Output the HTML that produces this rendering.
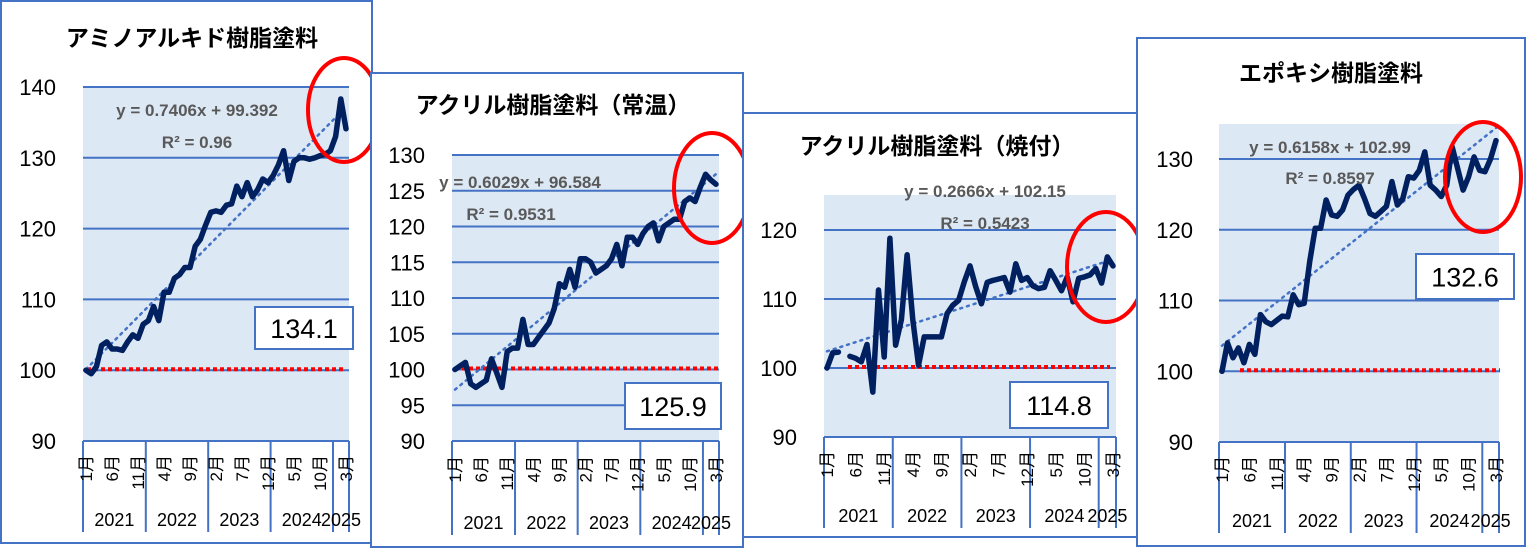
<!DOCTYPE html>
<html><head><meta charset="utf-8">
<style>
html,body{margin:0;padding:0;background:#fff;}
svg{display:block;font-family:"Liberation Sans","Noto Sans CJK JP",sans-serif;}
</style></head>
<body>
<svg id="c" width="1526" height="548" viewBox="0 0 1526 548"></svg>
<script>
const months = ["1月","6月","11月","4月","9月","2月","7月","12月","5月","10月","3月"];
const years = ["2021","2022","2023","2024","2025"];
const titles = ["アミノアルキド樹脂塗料","アクリル樹脂塗料（常温）","アクリル樹脂塗料（焼付）","エポキシ樹脂塗料"];
const series1 = [100,99.5,100.5,103.5,104,103,103,102.8,104,105,104.5,106.5,
 107,109,107,111,111,113,113.5,114.5,114.5,117.5,118.5,120.5,
 122.3,122.5,122.3,123.3,123.5,126,124.5,126.5,124.5,125.5,127,126.5,
 127.5,129,131,126.8,129.5,130,130,129.8,130,130.3,130.5,131,
 133,138.3,134.1];
const series2 = [100,100.5,101,98,97.5,98,98.5,101.5,99.5,97.5,102.5,103,
 103,107,103.5,103.5,104.5,105.5,106.5,108.5,112,111.5,114,111.5,
 115.5,115.5,115,113.5,114,114.5,115.5,117.5,114.5,118.5,118.5,117.5,
 119,120,120.5,118,120,120.5,121,121,123.5,124,123.5,125.5,
 127.3,126.5,125.9];
const series3 = [100,102.2,102.3,null,101.7,101.4,100.9,103.4,96.5,111.3,101.6,118.8,
 103.3,107,116.4,107,100.4,104.5,104.5,104.5,104.5,107.9,109.1,109.8,
 112.5,114.8,111.8,109.3,112.4,112.7,112.9,113.1,111,115.1,112.7,113.1,
 111.9,111.5,111.7,114.1,112.7,111.2,113.2,109.6,113,113.2,113.5,114.4,
 112.3,116.1,114.8];
const series4 = [100,104,101.9,103.3,101.2,103.8,102.4,108,107,106.6,107.2,107.8,
 107.7,110.8,109.4,109.6,115.5,120.2,120.2,124.2,122.1,121.9,122.8,124.9,
 125.7,126.3,124.4,122.3,121.9,122.6,123.3,126.8,123.5,124.4,127.5,127.3,
 128.4,131,126.3,125.6,124.7,126.3,131.7,128.7,125.6,127.5,130.3,128.4,
 128.2,130,132.6];
const slopes = [0.7406,0.6029,0.2666,0.6158];
const intercepts = [99.392,96.584,102.15,102.99];
const eqLabels = ["y = 0.7406x + 99.392","y = 0.6029x + 96.584","y = 0.2666x + 102.15","y = 0.6158x + 102.99"];
const r2Labels = ["R² = 0.96","R² = 0.9531","R² = 0.5423","R² = 0.8597"];
const latestLabels = ["134.1","125.9","114.8","132.6"];
const yTicks1 = [90,100,110,120,130,140];
const yTicks2 = [90,95,100,105,110,115,120,125,130];
const yTicks3 = [90,100,110,120];
const yTicks4 = [90,100,110,120,130];

const NS="http://www.w3.org/2000/svg";
const svg=document.getElementById('c');
function mk(tag,attrs,parent,text){const e=document.createElementNS(NS,tag);for(const k in attrs)e.setAttribute(k,attrs[k]);if(text!==undefined)e.textContent=text;(parent||svg).appendChild(e);return e;}

const layouts=[
 {panel:[1,1,371,542],title:[192,46],px0:83,px1:349,bgTop:87,vMin:90,vMax:140,yBottom:441,axisBottom:532,yLabX:56,eq:[197,116],r2:[197,148],box:[255,307,98,42],ell:[344,110,36,52],redX:[87,346],ticks:yTicks1,data:series1,yearY:526,monthTop:455},
 {panel:[371,73,372,474],title:[553,113],px0:452,px1:719,bgTop:155,vMin:90,vMax:130,yBottom:441,axisBottom:535,yLabX:425,eq:[520,188],r2:[511,220],box:[625,383,96,46],ell:[712,188,38,55],redX:[455,718],ticks:yTicks2,data:series2,yearY:529,monthTop:456},
 {panel:[743,113,395,424],title:[937,154],px0:824,px1:1116,bgTop:195,vMin:90,vMax:120,yBottom:437,axisBottom:528,yLabX:797,eq:[985,197],r2:[985,229],box:[1010,382,98,46],ell:[1106,267,39,55],redX:[848,1110],ticks:yTicks3,data:series3,yearY:522,monthTop:451},
 {panel:[1137,38,388,508],title:[1331,81],px0:1219,px1:1499,bgTop:124,vMin:90,vMax:130,yBottom:442,axisBottom:533,yLabX:1193,eq:[1330,153],r2:[1330,184],box:[1416,254,98,45],ell:[1483,177,38,55],redX:[1240,1500],ticks:yTicks4,data:series4,yearY:527,monthTop:456}
];

layouts.forEach((L,ci)=>{
 const g=mk('g',{});
 
 
 const [px,py,pw,ph]=L.panel;
 const pnl=mk('rect',{x:px,y:py,width:pw,height:ph,fill:'#fff',stroke:'#4472c4','stroke-width':2},g);
 
 
 const t=mk('text',{x:L.title[0],y:L.title[1],'text-anchor':'middle','font-size':23,'font-weight':'bold',fill:'#000'},g,titles[ci]);
 
 
 const n=L.data.length;
 const xs=i=>L.px0+3+(L.px1-L.px0-6)*i/(n-1);
 L.k = (ci===2)? (L.yBottom-230)/30 : (ci===3? (L.yBottom-159)/40 : (L.yBottom-L.bgTop)/(L.vMax-L.vMin));
 const ys=v=>L.yBottom-(v-L.vMin)*L.k;
 const bg=mk('rect',{x:L.px0,y:L.bgTop,width:L.px1-L.px0,height:L.yBottom-L.bgTop,fill:'#dde8f5'},g);
 
 
 L.ticks.forEach(v=>{
  const y=ys(v);
  if(v>L.vMin){const gl=mk('line',{x1:L.px0,x2:L.px1,y1:y,y2:y,stroke:'#4472c4','stroke-width':2},g);
   
   }
  const tl=mk('text',{x:L.yLabX,y:y+8,'text-anchor':'end','font-size':22,fill:'#000'},g,String(v));
  
  
 });
 const ax=mk('line',{x1:L.px0,x2:L.px1,y1:L.yBottom,y2:L.yBottom,stroke:'#4472c4','stroke-width':2},g);
 
 
 const bounds=[0,12,24,36,48,n];
 bounds.forEach((b,bi)=>{
  const x=bi===bounds.length-1?L.px1:(b===0?L.px0:(xs(b)+xs(b-1))/2);
  const vl=mk('line',{x1:x,x2:x,y1:L.yBottom,y2:L.axisBottom,stroke:'#4472c4','stroke-width':2},g);
  
  
 });
 years.forEach((yr,yi)=>{
  const a=yi===0?L.px0:(xs(bounds[yi])+xs(bounds[yi]-1))/2;
  const b=yi===4?L.px1:(xs(bounds[yi+1])+xs(bounds[yi+1]-1))/2;
  const yl=mk('text',{x:(a+b)/2,y:L.yearY,'text-anchor':'middle','font-size':18,fill:'#000'},g,yr);
  
  
 });
 months.forEach((m,mi)=>{
  const x=xs(mi*5)+6;
  const ml=mk('text',{x:0,y:0,'text-anchor':'end','font-size':17,fill:'#000',transform:`translate(${x},${L.monthTop}) rotate(-90)`},g,m);
  
  
 });
 const rl=mk('line',{x1:L.redX[0],x2:L.redX[1],y1:ys(100)-1,y2:ys(100)-1,stroke:'#ff0000','stroke-width':4,'stroke-dasharray':'4 3'},g);
 
 
 const tr=mk('line',{x1:xs(0),y1:ys(slopes[ci]*1+intercepts[ci]),x2:xs(n-1),y2:ys(slopes[ci]*n+intercepts[ci]),stroke:'#4472c4','stroke-width':2.5,'stroke-dasharray':'2 5','stroke-linecap':'round'},g);
 
 
 let d='',pen=false;
 L.data.forEach((v,i)=>{if(v===null){pen=false;return;}d+=(pen?'L':'M')+xs(i).toFixed(1)+' '+ys(v).toFixed(1)+' ';pen=true;});
 const ln=mk('path',{d:d,fill:'none',stroke:'#002060','stroke-width':5.5,'stroke-linejoin':'round','stroke-linecap':'round'},g);
 
 
 const eq=mk('text',{x:L.eq[0],y:L.eq[1],'text-anchor':'middle','font-size':17,'font-weight':'bold',fill:'#595959'},g,eqLabels[ci]);
 
 
 const r2=mk('text',{x:L.r2[0],y:L.r2[1],'text-anchor':'middle','font-size':17,'font-weight':'bold',fill:'#595959'},g,r2Labels[ci]);
 
 
 const bx=mk('rect',{x:L.box[0],y:L.box[1],width:L.box[2],height:L.box[3],fill:'#fff',stroke:'#4472c4','stroke-width':2},g);
 
 
 const bt=mk('text',{x:L.box[0]+L.box[2]/2,y:L.box[1]+L.box[3]/2+10,'text-anchor':'middle','font-size':27,fill:'#000'},g,latestLabels[ci]);
 
 
 const el=mk('ellipse',{cx:L.ell[0],cy:L.ell[1],rx:L.ell[2],ry:L.ell[3],fill:'none',stroke:'#ff0000','stroke-width':4},g);
 
 
});
</script>
</body></html>
